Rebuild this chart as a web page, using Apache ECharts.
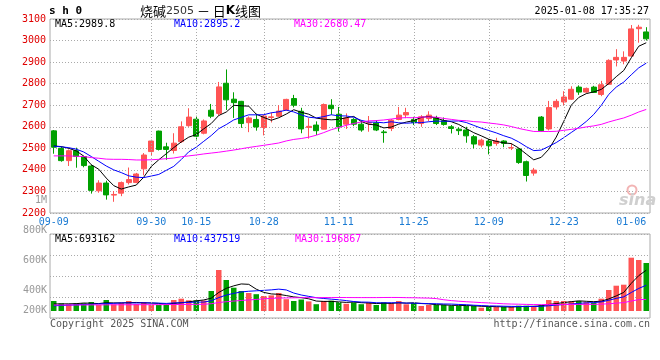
<!DOCTYPE html>
<html><head><meta charset="utf-8">
<script src="https://cdn.jsdelivr.net/npm/echarts@6/dist/echarts.min.js"></script>
<style>html,body{margin:0;padding:0;background:#fff}#c{width:660px;height:360px}</style>
</head><body><div id="c"></div>
<script>
// ---- data ----
const dates = ['09-09','09-10','09-11','09-12','09-13','09-18','09-19','09-20','09-23','09-24','09-25','09-26','09-27','09-30',
 '10-08','10-09','10-10','10-11','10-14','10-15','10-16','10-17','10-18','10-21','10-22','10-23','10-24','10-25','10-28','10-29','10-30','10-31',
 '11-01','11-04','11-05','11-06','11-07','11-08','11-11','11-12','11-13','11-14','11-15','11-18','11-19','11-20','11-21','11-22','11-25','11-26','11-27','11-28','11-29',
 '12-02','12-03','12-04','12-05','12-06','12-09','12-10','12-11','12-12','12-13','12-16','12-17','12-18','12-19','12-20','12-23','12-24','12-25','12-26','12-27','12-30','12-31',
 '01-02','01-03','01-06','01-07','01-08'];
const tickDates = ['09-09','09-30','10-15','10-28','11-11','11-25','12-09','12-23','01-06'];
const priceOpen = [2581,2500,2443,2489,2462,2418,2303,2339,2283,2292, 2341,2342,2405,2485,2580,2507,2490,2531,2605,2635,
 2570,2677,2662,2802,2728,2718,2619,2634,2597,2643, 2649,2678,2731,2672,2597,2608,2589,2700,2658,2612,
 2634,2612,2617,2618,2576,2592,2634,2655,2634,2615, 2638,2643,2628,2600,2589,2585,2554,2515,2534,2523,
 2534,2502,2497,2438,2385,2645,2590,2692,2715,2728, 2784,2761,2784,2750,2797,2910,2905,2928,3055,3040];
const priceClose = [2505,2443,2489,2462,2420,2305,2339,2284,2286,2341, 2355,2381,2469,2534,2495,2495,2524,2600,2645,2556,
 2627,2649,2785,2725,2712,2615,2641,2599,2650,2646, 2673,2727,2700,2590,2602,2582,2703,2684,2600,2641,
 2612,2585,2619,2585,2573,2631,2654,2666,2620,2646, 2654,2615,2611,2592,2582,2558,2520,2538,2512,2534,
 2523,2503,2434,2374,2399,2582,2689,2718,2738,2774, 2761,2778,2759,2795,2908,2922,2922,3054,3062,3008];
const priceLow = [2475,2438,2418,2410,2412,2290,2294,2262,2252,2278, 2332,2338,2375,2468,2490,2447,2476,2525,2600,2541,
 2565,2640,2652,2678,2641,2595,2575,2582,2560,2620, 2645,2675,2690,2570,2545,2562,2588,2656,2578,2590,
 2603,2577,2577,2580,2526,2580,2630,2640,2608,2600, 2626,2608,2605,2569,2562,2526,2500,2505,2472,2512,
 2505,2492,2428,2346,2373,2578,2583,2680,2700,2725, 2748,2757,2757,2742,2795,2880,2890,2926,2990,3000];
const priceHigh = [2585,2508,2495,2503,2466,2424,2352,2350,2302,2346, 2411,2386,2478,2540,2582,2526,2570,2625,2686,2651,
 2634,2706,2808,2866,2760,2720,2648,2660,2655,2666, 2700,2730,2748,2688,2640,2625,2708,2728,2692,2662,
 2640,2630,2650,2630,2585,2636,2692,2688,2646,2654, 2672,2651,2643,2608,2597,2600,2562,2545,2543,2549,
 2538,2523,2500,2443,2409,2650,2720,2728,2765,2788, 2792,2782,2790,2813,2913,2960,2950,3072,3073,3062];
const ma5 = [2511,2508,2500,2488,2463.8,2423.8,2403,2362,2326.8,2311, 2321,2329.4,2366.4,2416,2446.8,2474.8,2503.4,2529.6,2551.8,2564,
 2590.4,2615.4,2652.4,2668.4,2699.6,2697.2,2695.6,2658.4,2643.4,2630.2, 2641.8,2659,2679.2,2667.2,2658.4,2640.2,2635.4,2632.2,2634.2,2642,
 2648,2624.4,2611.4,2608.4,2594.8,2598.6,2612.4,2621.8,2628.8,2643.4, 2648,2640.2,2629.2,2623.6,2610.8,2591.6,2572.6,2558,2542,2532.4,
 2525.4,2522,2501.2,2473.6,2446.6,2458.4,2495.6,2552.4,2625.2,2700.2, 2736,2753.8,2762,2773.4,2800.2,2832.4,2861.2,2920.2,2973.6,2989.8];
const ma10 = [2510,2507,2503,2496,2483,2462,2440,2418,2400,2387.4, 2372.4,2366.2,2364.2,2371.4,2378.9,2397.9,2416.4,2448,2483.9,2505.4,
 2532.6,2559.4,2591,2610.1,2631.8,2643.8,2655.5,2655.4,2655.9,2664.9, 2669.5,2677.3,2668.8,2655.3,2644.3,2641,2647.2,2655.7,2650.7,2650.2,
 2644.1,2629.9,2621.8,2621.3,2618.4,2623.3,2618.4,2616.6,2618.6,2619.1, 2623.3,2626.3,2625.5,2626.2,2627.1,2619.8,2606.4,2593.6,2582.8,2571.6,
 2558.5,2547.3,2529.6,2507.8,2489.5,2491.9,2508.8,2526.8,2549.4,2573.4, 2597.2,2624.7,2657.2,2699.3,2750.2,2784.2,2807.5,2841.1,2873.5,2895.2];
const ma30 = [2465,2465,2465,2463,2462,2457,2454,2450,2449,2449, 2448,2446,2446,2447,2449,2452,2455,2461,2465,2469,
 2474,2478,2482,2487,2492,2498,2504,2509,2514,2519.2, 2524.8,2534.3,2541.3,2545.6,2551.7,2560.9,2573.0,2586.4,2596.8,2606.8,
 2615.4,2622.2,2627.2,2628.9,2631.5,2636.0,2640.4,2642.6,2641.7,2644.7, 2645.6,2644.5,2638.7,2634.3,2629.9,2628.0,2624.0,2622.0,2617.4,2613.6,
 2608.6,2601.2,2592.3,2585.1,2578.3,2578.3,2577.9,2579.0,2583.6,2588.0, 2593.0,2599.4,2604.1,2611.1,2622.3,2632.0,2640.9,2653.8,2668.6,2680.47];
// volumes in thousands of lots
const volume = [170,130.9,113.9,130.9,130.9,153,102,187,113.9,136, 170,119,153,102,102,102,187,209.1,181.9,181.9,
 178.5,340,697,527,396.1,340,306,285.6,255,265.2, 306,200.6,170,195.5,163.2,115.6,170,175.1,149.6,122.4,
 144.5,115.6,147.9,102,147.9,130.9,170,113.9,136,85, 102,102,102,88.4,85,85,85,56.1,76.5,68,
 68,68,90.1,90.1,85,102,187,170,170,164.9, 170,149.6,139.4,209.1,357,430.1,447.1,906.1,867,816];
const volMa5 = [120,120,122,125,135.3,131.9,126.1,140.8,137.4,138.4, 141.8,145.2,138.4,136.0,129.2,115.6,129.2,140.4,156.4,172.4,
 187.7,218.3,315.9,384.9,427.7,460.0,453.2,370.9,316.5,290.4, 283.6,262.5,239.4,227.5,207.1,169.0,162.9,163.9,154.7,146.5,
 152.3,141.4,136.0,126.5,131.6,128.9,139.7,132.9,139.7,127.2, 121.4,107.8,105.4,95.9,95.9,92.5,89.1,79.9,77.5,74.1,
 70.7,67.3,74.1,76.8,80.2,87.0,110.8,126.8,142.8,158.8, 172.4,164.9,158.8,166.6,205.0,257.0,316.5,469.9,601.5,693.2];
const volMa10 = [88,95,100,105,110,115,120,125,130,136.9, 136.9,135.7,139.6,136.7,133.8,128.7,137.2,139.4,146.2,150.8,
 151.6,173.7,228.1,270.6,300.1,323.9,335.8,343.4,350.7,359.0, 371.8,357.9,305.2,272.0,248.7,226.3,212.7,201.6,191.1,176.8,
 160.7,152.2,149.9,140.6,139.1,140.6,140.6,134.5,133.1,129.4, 125.1,123.8,119.2,117.8,111.5,106.9,98.4,92.7,86.7,85.0,
 81.6,78.2,77.0,77.2,77.2,78.9,89.1,100.5,109.8,119.5, 129.7,137.9,142.8,154.7,181.9,214.7,240.7,314.3,384.0,437.5];
const volMa30 = [102,102,102,103,103,104,104,105,105,106, 106,107,107,108,108,109,110,111,112,113,
 114,124,144,158,169,179,188,197,206,215.6, 220.1,222.4,224.3,226.4,227.5,226.3,228.5,228.1,229.3,228.9,
 228.0,227.9,227.7,227.7,229.3,230.2,229.7,226.5,225.0,221.7, 219.2,211.3,191.4,176.8,166.4,157.9,150.6,142.9,137.0,130.4,
 122.5,118.0,115.4,111.9,109.3,108.8,109.4,109.2,109.9,111.3, 112.1,113.3,113.0,116.6,123.5,133.5,142.7,169.2,193.5,196.9];
const volTickLabels = ['1M','800K','600K','400K','200K'];
const priceLegend = ['MA5:2989.8','MA10:2895.2','MA30:2680.47'];
const volLegend = ['MA5:693162','MA10:437519','MA30:196867'];

// ---- chart ----
const RED = '#ff5454', GREEN = '#00a000';
const MONO = '"DejaVu Sans Mono", "Liberation Mono", monospace';
const gridDates = tickDates.slice(1, -1);
const vLine = {
  symbol: 'none', silent: true, label: {show: false}, animation: false,
  lineStyle: {type: [1, 2], color: '#aaa', width: 1},
  data: gridDates.map(d => ({xAxis: d}))
};
const chart = echarts.init(document.getElementById('c'));
const candleData = dates.map((d, i) => [priceOpen[i], priceClose[i], priceLow[i], priceHigh[i]]);
const volData = volume.map((v, i) => ({value: v, itemStyle: {color: priceClose[i] >= priceOpen[i] ? RED : GREEN}}));
function txt(x, y, text, fill, font, align) {
  return {type: 'text', x: x, y: y, silent: true, z: 100,
    style: {text: text, fill: fill, font: font, align: align || 'left', textAlign: align || 'left',
      verticalAlign: 'middle', textVerticalAlign: 'middle'}};
}
const volLabelY = [200.7, 230.7, 260.7, 290.7, 310.7];
const graphics = [
  txt(49, 11, 's h 0', '#000', 'bold 11px ' + MONO),
  {type: 'text', x: 140, y: 11, silent: true, z: 100,
   style: {text: '{a|烧碱}{b|2505}{a| － 日}{k|K}{a|线图}', verticalAlign: 'middle', textVerticalAlign: 'middle',
     rich: {a: {fill: '#000', font: '13px "Noto Sans CJK SC"'}, b: {fill: '#333', font: '11px "DejaVu Sans"'},
            k: {fill: '#000', font: 'bold 12px "DejaVu Sans"'}}}},
  txt(649, 11.5, '2025-01-08 17:35:27', '#000', '10px ' + MONO, 'right'),
  txt(55, 24, priceLegend[0], '#000', '10px ' + MONO),
  txt(174, 24, priceLegend[1], '#0000ff', '10px ' + MONO),
  txt(294, 24, priceLegend[2], '#ff00ff', '10px ' + MONO),
  txt(55, 239, volLegend[0], '#000', '10px ' + MONO),
  txt(174, 239, volLegend[1], '#0000ff', '10px ' + MONO),
  txt(295, 239, volLegend[2], '#ff00ff', '10px ' + MONO),
  txt(50, 324, 'Copyright 2025 SINA.COM', '#555', '10px ' + MONO),
  txt(650, 324, 'http://finance.sina.com.cn', '#555', '10px ' + MONO, 'right'),
  {type: 'circle', shape: {cx: 632, cy: 190, r: 4.5}, silent: true, z: 1,
   style: {fill: 'none', stroke: '#f2b4b4', lineWidth: 2}},
  txt(619, 201, 'sina', '#cfcfcf', 'italic bold 16px "DejaVu Sans"')
].concat(volTickLabels.map((t, i) => txt(47, volLabelY[i], t, '#999', '10px ' + MONO, 'right')));

chart.setOption({
  animation: false,
  backgroundColor: '#fff',
  grid: [
    {left: 50, right: 10, top: 19, height: 194, show: true, borderColor: '#aaa', borderWidth: 1},
    {left: 50, right: 10, top: 234, height: 84, show: true, borderColor: '#aaa', borderWidth: 1}
  ],
  xAxis: [
    {type: 'category', gridIndex: 0, data: dates, boundaryGap: true,
     axisLine: {show: false}, axisTick: {show: false}, splitLine: {show: false},
     axisLabel: {interval: (i, v) => tickDates.indexOf(v) >= 0, color: '#1b7bd3', fontFamily: MONO, fontSize: 10, margin: 4}},
    {type: 'category', gridIndex: 1, data: dates, boundaryGap: true,
     axisLine: {show: false}, axisTick: {show: false}, axisLabel: {show: false}, splitLine: {show: false}}
  ],
  yAxis: [
    {type: 'value', gridIndex: 0, min: 2200, max: 3100, interval: 100, position: 'left',
     axisLine: {show: false}, axisTick: {show: false},
     axisLabel: {color: '#e00000', fontFamily: MONO, fontSize: 10, margin: 4, padding: [0, 0, 2, 0],
                 formatter: v => String(v)},
     splitLine: {lineStyle: {type: [1, 2], color: '#aaa', width: 1}}},
    {type: 'value', gridIndex: 1, min: -119, max: 1309, position: 'left', show: false, splitLine: {show: false}},
    {type: 'value', gridIndex: 1, min: 0, max: 4, interval: 1, position: 'left',
     axisLine: {show: false}, axisTick: {show: false}, axisLabel: {show: false},
     splitLine: {lineStyle: {type: [1, 2], color: '#aaa', width: 1}}}
  ],
  series: [
    {type: 'candlestick', xAxisIndex: 0, yAxisIndex: 0, data: candleData, barWidth: 5.5,
     itemStyle: {color: RED, color0: GREEN, borderColor: RED, borderColor0: GREEN, borderWidth: 1},
     markLine: vLine},
    {type: 'line', xAxisIndex: 0, yAxisIndex: 0, data: ma5, symbol: 'none', lineStyle: {color: '#000', width: 1}},
    {type: 'line', xAxisIndex: 0, yAxisIndex: 0, data: ma10, symbol: 'none', lineStyle: {color: '#0000ff', width: 1}},
    {type: 'line', xAxisIndex: 0, yAxisIndex: 0, data: ma30, symbol: 'none', lineStyle: {color: '#ff00ff', width: 1}},
    {type: 'bar', xAxisIndex: 1, yAxisIndex: 1, data: volData, barWidth: 5.5, markLine: vLine},
    {type: 'line', xAxisIndex: 1, yAxisIndex: 1, data: volMa5, symbol: 'none', lineStyle: {color: '#000', width: 1}},
    {type: 'line', xAxisIndex: 1, yAxisIndex: 1, data: volMa10, symbol: 'none', lineStyle: {color: '#0000ff', width: 1}},
    {type: 'line', xAxisIndex: 1, yAxisIndex: 1, data: volMa30, symbol: 'none', lineStyle: {color: '#ff00ff', width: 1}}
  ],
  graphic: graphics
});
</script></body></html>
